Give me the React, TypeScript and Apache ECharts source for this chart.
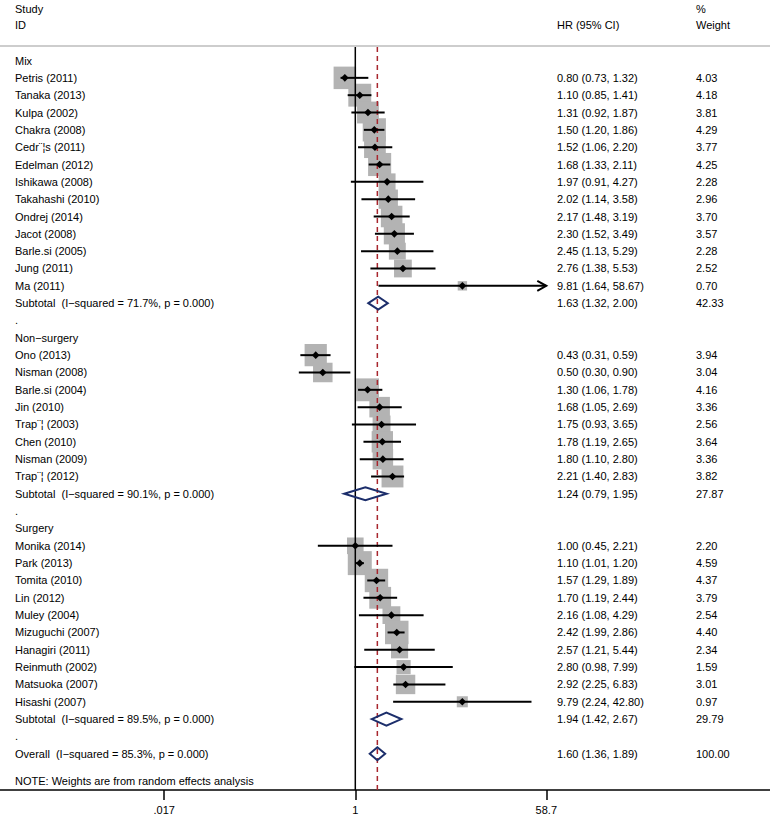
import React, { useEffect, useRef } from "react";
import * as echarts from "echarts";

// ---------- data ----------
const groupNames = ["Mix", "Non\u2212surgery", "Surgery"];

const mixStudies = [
  "Petris (2011)", "Tanaka (2013)", "Kulpa (2002)", "Chakra (2008)", "Cedr\u00a8\u00a6s (2011)",
  "Edelman (2012)", "Ishikawa (2008)", "Takahashi (2010)", "Ondrej (2014)", "Jacot (2008)",
  "Barle.si (2005)", "Jung (2011)", "Ma (2011)",
];
const mixHR = [0.8, 1.1, 1.31, 1.5, 1.52, 1.68, 1.97, 2.02, 2.17, 2.3, 2.45, 2.76, 9.81];
const mixLower = [0.73, 0.85, 0.92, 1.2, 1.06, 1.33, 0.91, 1.14, 1.48, 1.52, 1.13, 1.38, 1.64];
const mixUpper = [1.32, 1.41, 1.87, 1.86, 2.2, 2.11, 4.27, 3.58, 3.19, 3.49, 5.29, 5.53, 58.67];
const mixWeight = [4.03, 4.18, 3.81, 4.29, 3.77, 4.25, 2.28, 2.96, 3.7, 3.57, 2.28, 2.52, 0.7];

const nonSurgeryStudies = [
  "Ono (2013)", "Nisman (2008)", "Barle.si (2004)", "Jin (2010)", "Trap\u00a8\u00a6 (2003)",
  "Chen (2010)", "Nisman (2009)", "Trap\u00a8\u00a6 (2012)",
];
const nonSurgeryHR = [0.43, 0.5, 1.3, 1.68, 1.75, 1.78, 1.8, 2.21];
const nonSurgeryLower = [0.31, 0.3, 1.06, 1.05, 0.93, 1.19, 1.1, 1.4];
const nonSurgeryUpper = [0.59, 0.9, 1.78, 2.69, 3.65, 2.65, 2.8, 2.83];
const nonSurgeryWeight = [3.94, 3.04, 4.16, 3.36, 2.56, 3.64, 3.36, 3.82];

const surgeryStudies = [
  "Monika (2014)", "Park (2013)", "Tomita (2010)", "Lin (2012)", "Muley (2004)",
  "Mizuguchi (2007)", "Hanagiri (2011)", "Reinmuth (2002)", "Matsuoka (2007)", "Hisashi (2007)",
];
const surgeryHR = [1.0, 1.1, 1.57, 1.7, 2.16, 2.42, 2.57, 2.8, 2.92, 9.79];
const surgeryLower = [0.45, 1.01, 1.29, 1.19, 1.08, 1.99, 1.21, 0.98, 2.25, 2.24];
const surgeryUpper = [2.21, 1.2, 1.89, 2.44, 4.29, 2.86, 5.44, 7.99, 6.83, 42.8];
const surgeryWeight = [2.2, 4.59, 4.37, 3.79, 2.54, 4.4, 2.34, 1.59, 3.01, 0.97];

const subtotalLabels = [
  "Subtotal  (I\u2212squared = 71.7%, p = 0.000)",
  "Subtotal  (I\u2212squared = 90.1%, p = 0.000)",
  "Subtotal  (I\u2212squared = 89.5%, p = 0.000)",
];
const subtotalHR = [1.63, 1.24, 1.94];
const subtotalLower = [1.32, 0.79, 1.42];
const subtotalUpper = [2.0, 1.95, 2.67];
const subtotalWeight = [42.33, 27.87, 29.79];

const overallLabel = "Overall  (I\u2212squared = 85.3%, p = 0.000)";
const overallHR = 1.6;
const overallLower = 1.36;
const overallUpper = 1.89;
const overallWeight = 100.0;

const tickValues = [0.017, 1, 58.7];
const tickLabels = [".017", "1", "58.7"];

const noteText = "NOTE: Weights are from random effects analysis";

// ---------- layout constants ----------
const W = 770;
const H = 818;
const X_MIN = -3.29;
const X_MAX = 3.84;
const Y_MIN = -0.78;
const Y_MAX = 42.09;
const FONT = "Liberation Sans";
const FS = 11;
const COL_LABEL = 15;
const COL_HR = 557;
const COL_W = 696;

type Row = {
  row: number;
  kind: "head" | "study" | "sub" | "dot" | "overall";
  label: string;
  hr?: number;
  lo?: number;
  hi?: number;
  w?: number;
};

function buildRows(): Row[] {
  const groups = [
    [mixStudies, mixHR, mixLower, mixUpper, mixWeight],
    [nonSurgeryStudies, nonSurgeryHR, nonSurgeryLower, nonSurgeryUpper, nonSurgeryWeight],
    [surgeryStudies, surgeryHR, surgeryLower, surgeryUpper, surgeryWeight],
  ] as [string[], number[], number[], number[], number[]][];
  const rows: Row[] = [];
  let r = 0;
  groups.forEach((g, gi) => {
    rows.push({ row: r++, kind: "head", label: groupNames[gi] });
    g[0].forEach((name, i) => {
      rows.push({ row: r++, kind: "study", label: name, hr: g[1][i], lo: g[2][i], hi: g[3][i], w: g[4][i] });
    });
    rows.push({
      row: r++, kind: "sub", label: subtotalLabels[gi],
      hr: subtotalHR[gi], lo: subtotalLower[gi], hi: subtotalUpper[gi], w: subtotalWeight[gi],
    });
    rows.push({ row: r++, kind: "dot", label: "." });
  });
  rows.push({ row: r++, kind: "overall", label: overallLabel, hr: overallHR, lo: overallLower, hi: overallUpper, w: overallWeight });
  return rows;
}

const lg = (v: number) => Math.log10(v);

export default function App() {
  const ref = useRef<HTMLDivElement>(null);
  useEffect(() => {
    if (!ref.current) return;
    const chart = echarts.init(ref.current, undefined, { renderer: "svg" });
    const rows = buildRows();
    const studies = rows.filter((r) => r.kind === "study");
    const pooled = rows.filter((r) => r.kind === "sub" || r.kind === "overall");
    const tickLog = tickValues.map(lg);
    const maxTick = tickValues[tickValues.length - 1];

    const textStyle = (text: string, x: number, y: number) => ({
      type: "text",
      x,
      y,
      style: { text, fontFamily: FONT, fontSize: FS, fill: "#000", verticalAlign: "middle", align: "left" },
    });

    const option: any = {
      animation: false,
      grid: { left: 0, right: 0, top: 47, bottom: H - 790 },
      xAxis: {
        type: "value",
        min: X_MIN,
        max: X_MAX,
        splitLine: { show: false },
        axisLine: { show: true, onZero: false, lineStyle: { color: "#000", width: 1.5 } },
        axisTick: { show: true, customValues: tickLog, length: 10, lineStyle: { color: "#000", width: 1.5 } },
        axisLabel: {
          customValues: tickLog,
          margin: 14,
          fontFamily: FONT,
          fontSize: FS,
          color: "#000",
          formatter: (v: number) => {
            let best = 0;
            tickLog.forEach((t, i) => {
              if (Math.abs(t - v) < Math.abs(tickLog[best] - v)) best = i;
            });
            return tickLabels[best];
          },
        },
      },
      yAxis: { type: "value", inverse: true, min: Y_MIN, max: Y_MAX, show: false },
      graphic: [
        { type: "line", shape: { x1: 0, y1: 46, x2: W, y2: 46 }, style: { stroke: "#bdbdbd", lineWidth: 1.5 } },
        textStyle("Study", COL_LABEL, 9),
        textStyle("ID", COL_LABEL, 25),
        textStyle("HR (95% CI)", COL_HR, 25),
        textStyle("%", COL_W, 9),
        textStyle("Weight", COL_W, 25),
        textStyle(noteText, COL_LABEL, 781),
      ],
      series: [
        {
          type: "custom",
          z: 1,
          data: studies.map((s) => [lg(s.hr!), s.row, s.w!]),
          renderItem: (_p: any, api: any) => {
            const c = api.coord([api.value(0), api.value(1)]);
            const s = 11.2 * Math.sqrt(api.value(2));
            return {
              type: "rect",
              shape: { x: c[0] - s / 2, y: c[1] - s / 2, width: s, height: s },
              style: { fill: "#b3b3b3" },
            };
          },
        },
        {
          type: "custom",
          z: 2,
          data: [[0, 0, 0], [lg(overallHR), 0, 1]],
          renderItem: (params: any, api: any) => {
            const cs = params.coordSys;
            const x = api.coord([api.value(0), 0])[0];
            const dashed = api.value(2) === 1;
            return {
              type: "line",
              shape: { x1: x, y1: cs.y, x2: x, y2: cs.y + cs.height },
              style: dashed
                ? { stroke: "#a8262e", lineWidth: 1.5, lineDash: [5, 4] }
                : { stroke: "#000", lineWidth: 1.5 },
            };
          },
        },
        {
          type: "custom",
          z: 3,
          data: studies.map((s) => [lg(s.lo!), lg(s.hi!), lg(s.hr!), s.row, s.hi! >= maxTick * 0.995 ? 1 : 0]),
          renderItem: (_p: any, api: any) => {
            const y = api.coord([0, api.value(3)])[1];
            const x1 = api.coord([api.value(0), 0])[0];
            const x2 = api.coord([api.value(1), 0])[0];
            const xe = api.coord([api.value(2), 0])[0];
            const d = 3.8;
            const children: any[] = [
              { type: "line", shape: { x1, y1: y, x2, y2: y }, style: { stroke: "#000", lineWidth: 2 } },
              {
                type: "polygon",
                shape: { points: [[xe - d, y], [xe, y - d], [xe + d, y], [xe, y + d]] },
                style: { fill: "#000" },
              },
            ];
            if (api.value(4) === 1) {
              children.push({
                type: "polyline",
                shape: { points: [[x2 - 9, y - 5], [x2, y], [x2 - 9, y + 5]] },
                style: { stroke: "#000", lineWidth: 2, fill: "none" },
              });
            }
            return { type: "group", children };
          },
        },
        {
          type: "custom",
          z: 3,
          data: pooled.map((s) => [lg(s.lo!), lg(s.hi!), lg(s.hr!), s.row]),
          renderItem: (_p: any, api: any) => {
            const y = api.coord([0, api.value(3)])[1];
            const x1 = api.coord([api.value(0), 0])[0];
            const x2 = api.coord([api.value(1), 0])[0];
            const xe = api.coord([api.value(2), 0])[0];
            const h = 6.5;
            return {
              type: "polygon",
              shape: { points: [[x1, y], [xe, y - h], [x2, y], [xe, y + h]] },
              style: { stroke: "#1c2e6b", lineWidth: 2, fill: "none" },
            };
          },
        },
        {
          type: "custom",
          z: 4,
          data: rows.map((r, i) => [0, r.row, i]),
          renderItem: (_p: any, api: any) => {
            const r = rows[api.value(2)];
            const y = api.coord([0, api.value(1)])[1];
            const children: any[] = [textStyle(r.label, COL_LABEL, y)];
            if (r.hr !== undefined) {
              children.push(
                textStyle(`${r.hr.toFixed(2)} (${r.lo!.toFixed(2)}, ${r.hi!.toFixed(2)})`, COL_HR, y),
                textStyle(r.w!.toFixed(2), COL_W, y)
              );
            }
            return { type: "group", children };
          },
        },
      ],
    };
    chart.setOption(option);
    return () => chart.dispose();
  }, []);
  return <div ref={ref} style={{ position: "absolute", left: 0, top: 0, width: W, height: H }} />;
}
